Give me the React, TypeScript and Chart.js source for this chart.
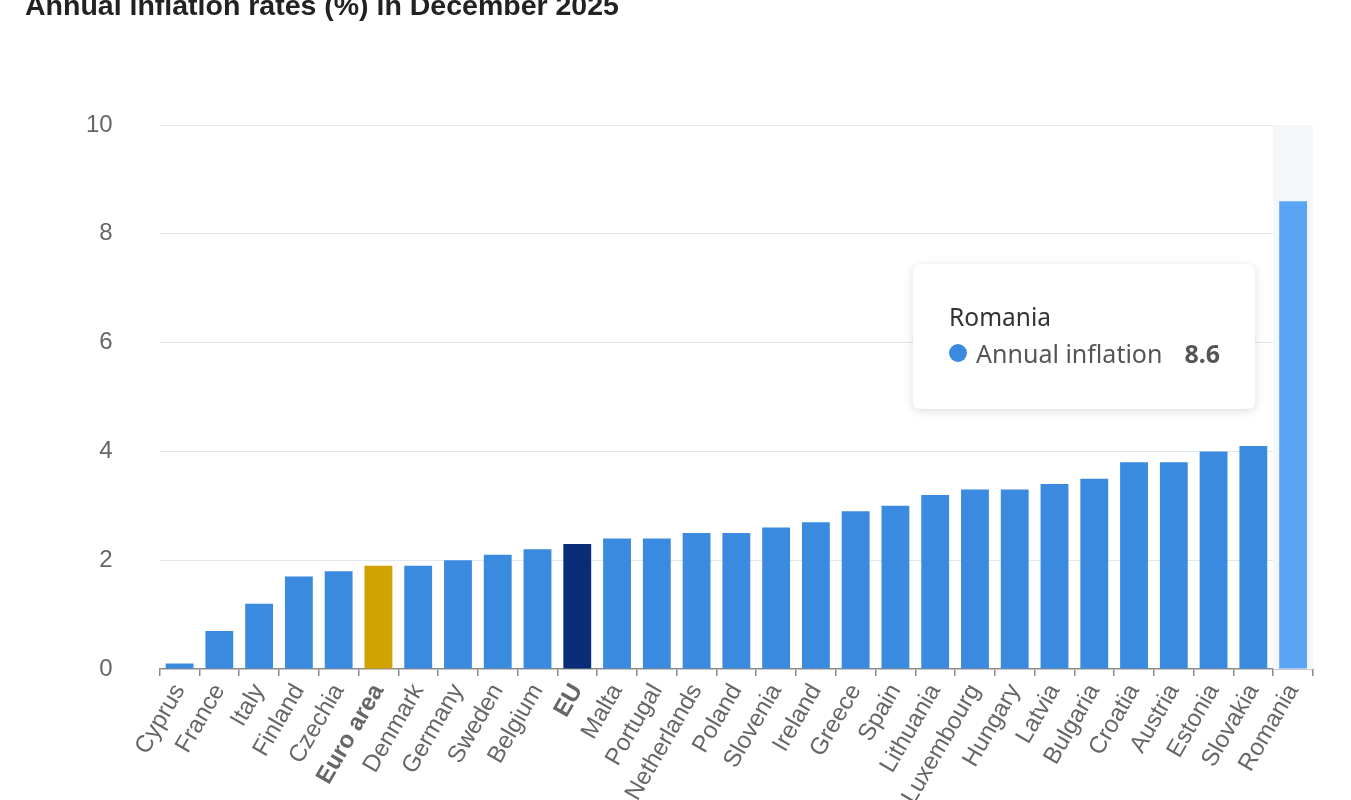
import React, { useEffect, useRef } from "react";
import { Chart, registerables } from "chart.js";

Chart.register(...registerables);

const TITLE = "Annual inflation rates (%) in December 2025";
const SERIES_NAME = "Annual inflation";

const countries = [
  "Cyprus", "France", "Italy", "Finland", "Czechia", "Euro area", "Denmark", "Germany",
  "Sweden", "Belgium", "EU", "Malta", "Portugal", "Netherlands", "Poland", "Slovenia",
  "Ireland", "Greece", "Spain", "Lithuania", "Luxembourg", "Hungary", "Latvia", "Bulgaria",
  "Croatia", "Austria", "Estonia", "Slovakia", "Romania",
];

const inflation = [
  0.1, 0.7, 1.2, 1.7, 1.8, 1.9, 1.9, 2.0,
  2.1, 2.2, 2.3, 2.4, 2.4, 2.5, 2.5, 2.6,
  2.7, 2.9, 3.0, 3.2, 3.3, 3.3, 3.4, 3.5,
  3.8, 3.8, 4.0, 4.1, 8.6,
];

const yTicks = [0, 2, 4, 6, 8, 10];

const boldLabels = ["Euro area", "EU"];
const HIGHLIGHT = "Romania";

const COLOR_DEFAULT = "#3a8ae0";
const COLOR_EURO = "#cfa200";
const COLOR_EU = "#0b2c79";
const COLOR_HOVER = "#5aa4f4";

const barColors = countries.map((c) =>
  c === "Euro area" ? COLOR_EURO : c === "EU" ? COLOR_EU : COLOR_DEFAULT
);
const hoverColors = countries.map((c, i) => (c === HIGHLIGHT ? COLOR_HOVER : barColors[i]));

const AXIS_FONT = "'Liberation Sans', Arial, Helvetica, sans-serif";
const TIP_FONT = "'Noto Sans', 'Open Sans', sans-serif";

export default function App() {
  const canvasRef = useRef<HTMLCanvasElement>(null);
  const tipRef = useRef<HTMLDivElement>(null);
  const tipTitleRef = useRef<HTMLDivElement>(null);
  const tipValueRef = useRef<HTMLSpanElement>(null);

  useEffect(() => {
    const canvas = canvasRef.current;
    if (!canvas) return;

    const bandPlugin = {
      id: "hoverBand",
      beforeDatasetsDraw(chart: any) {
        const act = chart.getActiveElements();
        if (!act.length) return;
        const el = act[0].element;
        const xs = chart.scales.x;
        const w = xs.width / chart.data.labels.length;
        const { top, bottom } = chart.chartArea;
        const ctx = chart.ctx;
        ctx.save();
        ctx.fillStyle = "#f4f6fa";
        ctx.fillRect(el.x - w / 2, top, w, bottom - top);
        ctx.restore();
      },
    };

    const chart = new Chart(canvas, {
      type: "bar",
      data: {
        labels: countries,
        datasets: [
          {
            label: SERIES_NAME,
            data: inflation,
            backgroundColor: barColors,
            hoverBackgroundColor: hoverColors,
            borderWidth: 0,
            categoryPercentage: 1,
            barPercentage: 0.7,
          },
        ],
      },
      options: {
        responsive: false,
        animation: false,
        devicePixelRatio: 1,
        layout: { padding: { top: 125, left: 39, right: 38, bottom: 28 } },
        plugins: {
          legend: { display: false },
          title: { display: false },
          tooltip: {
            enabled: false,
            external: ({ chart: c, tooltip }: any) => {
              const tip = tipRef.current;
              if (!tip) return;
              if (tooltip.opacity === 0 || !tooltip.dataPoints || !tooltip.dataPoints.length) {
                tip.style.display = "none";
                return;
              }
              const dp = tooltip.dataPoints[0];
              if (tipTitleRef.current) tipTitleRef.current.textContent = String(dp.label);
              if (tipValueRef.current) tipValueRef.current.textContent = String(dp.formattedValue);
              tip.style.display = "block";
              tip.style.left = c.canvas.offsetLeft + tooltip.caretX - 380 + "px";
              tip.style.top = c.canvas.offsetTop + tooltip.caretY + 63 + "px";
            },
          },
        },
        scales: {
          x: {
            border: { display: true, color: "#8a8a8a", width: 1.5 },
            grid: {
              display: true,
              drawOnChartArea: false,
              drawTicks: true,
              tickLength: 7,
              color: "#8a8a8a",
              lineWidth: 1.5,
              offset: true,
            },
            ticks: {
              autoSkip: false,
              minRotation: 60,
              maxRotation: 60,
              padding: 3,
              color: "#666666",
              font: (ctx: any) => ({
                family: AXIS_FONT,
                size: 24,
                weight: boldLabels.includes(countries[ctx.index]) ? "bold" : "normal",
              }),
            },
          },
          y: {
            min: 0,
            max: 10,
            border: { display: false },
            grid: {
              drawTicks: false,
              color: (ctx: any) => (ctx.tick && ctx.tick.value === 0 ? "rgba(0,0,0,0)" : "#e1e7ee"),
              lineWidth: 1,
            },
            afterBuildTicks: (axis: any) => {
              axis.ticks = yTicks.map((v) => ({ value: v }));
            },
            ticks: {
              padding: 47,
              color: "#666666",
              font: { family: AXIS_FONT, size: 24 },
            },
          },
        },
      },
      plugins: [bandPlugin],
    });

    const idx = countries.indexOf(HIGHLIGHT);
    const el: any = chart.getDatasetMeta(0).data[idx];
    chart.setActiveElements([{ datasetIndex: 0, index: idx }]);
    chart.tooltip?.setActiveElements([{ datasetIndex: 0, index: idx }], { x: el.x, y: el.y });
    chart.update();

    return () => chart.destroy();
  }, []);

  return (
    <div>
      <div
        style={{
          position: "fixed",
          left: 0,
          top: 0,
          width: 1351,
          height: 840,
          background: "#ffffff",
        }}
      >
        <canvas ref={canvasRef} width={1351} height={840} style={{ display: "block" }} />
      </div>
      <div
        style={{
          position: "fixed",
          left: 25,
          top: -9,
          fontFamily: AXIS_FONT,
          fontWeight: "bold",
          fontSize: 28.5,
          lineHeight: "28px",
          color: "#222222",
          whiteSpace: "nowrap",
        }}
      >
        {TITLE}
      </div>
      <div
        ref={tipRef}
        style={{
          position: "fixed",
          display: "none",
          width: 342,
          height: 145,
          boxSizing: "border-box",
          background: "#ffffff",
          borderRadius: 7,
          boxShadow: "0 2px 10px rgba(0,0,0,0.14)",
          fontFamily: TIP_FONT,
          padding: "38px 0 0 36px",
        }}
      >
        <div
          ref={tipTitleRef}
          style={{ fontSize: 24.5, lineHeight: "30px", color: "#333333", whiteSpace: "nowrap" }}
        />
        <div
          style={{
            marginTop: 6,
            fontSize: 25,
            lineHeight: "30px",
            color: "#555555",
            whiteSpace: "nowrap",
            display: "flex",
            alignItems: "center",
          }}
        >
          <span
            style={{
              display: "inline-block",
              width: 18,
              height: 18,
              borderRadius: 9,
              background: COLOR_DEFAULT,
              marginRight: 9,
            }}
          />
          <span>{SERIES_NAME}</span>
          <span ref={tipValueRef} style={{ fontWeight: "bold", marginLeft: 22 }} />
        </div>
      </div>
    </div>
  );
}
